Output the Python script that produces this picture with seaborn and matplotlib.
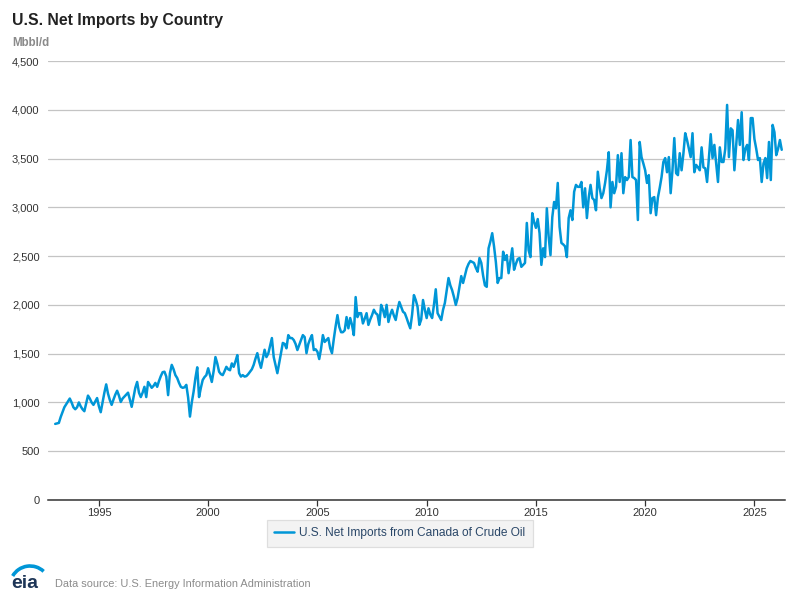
import numpy as np
import pandas as pd
import matplotlib
matplotlib.use("Agg")
import matplotlib.pyplot as plt
from matplotlib.patches import Arc
import seaborn as sns

# ---------------- data (Mbbl/d, monthly, starting Jan 1993) ----------------
start_year = 1993
vals_1990s = [
    780, 785, 790, 850, 900, 950, 980, 1010, 1040, 1000, 950, 930,        # 1993
    950, 1000, 960, 930, 910, 990, 1070, 1040, 1000, 975, 1010, 1045,     # 1994
    960, 900, 1000, 1100, 1185, 1090, 1025, 975, 1030, 1080, 1120, 1070,  # 1995
    1005, 1040, 1060, 1080, 1100, 1030, 955, 1050, 1150, 1210, 1100, 1055,  # 1996
    1100, 1160, 1055, 1210, 1180, 1150, 1170, 1200, 1160, 1220, 1270, 1310,  # 1997
    1315, 1265, 1075, 1300, 1385, 1340, 1280, 1250, 1200, 1160, 1150, 1155,  # 1998
    1180, 1050, 855, 1000, 1110, 1250, 1360, 1055, 1150, 1230, 1260, 1280,   # 1999
]
vals_2000s = [
    1350, 1280, 1210, 1320, 1465, 1400, 1315, 1290, 1280, 1320, 1365, 1340,  # 2000
    1330, 1400, 1365, 1420, 1485, 1300, 1265, 1280, 1265, 1270, 1290, 1315,  # 2001
    1340, 1385, 1450, 1505, 1420, 1355, 1450, 1540, 1465, 1500, 1580, 1660,  # 2002
    1465, 1380, 1300, 1400, 1505, 1610, 1600, 1555, 1690, 1660, 1660, 1640,  # 2003
    1600, 1537, 1590, 1640, 1690, 1670, 1505, 1600, 1650, 1690, 1537, 1545,  # 2004
    1520, 1445, 1550, 1690, 1620, 1640, 1660, 1557, 1505, 1650, 1780, 1895,  # 2005
    1775, 1720, 1720, 1740, 1875, 1760, 1865, 1795, 1690, 2080, 1875, 1915,  # 2006
    1915, 1810, 1860, 1915, 1795, 1850, 1895, 1950, 1915, 1900, 1795, 2000,  # 2007
    1950, 1875, 2000, 1825, 1900, 1950, 1890, 1845, 1950, 2030, 1980, 1930,  # 2008
    1915, 1865, 1810, 1760, 1900, 2100, 2050, 1980, 1795, 1850, 2050, 1950,  # 2009
]
vals_2010s = [
    1865, 1965, 1900, 1865, 2000, 2160, 1915, 1880, 1845, 1950, 2020, 2150,  # 2010
    2275, 2200, 2150, 2080, 2000, 2070, 2180, 2295, 2225, 2300, 2375, 2420,  # 2011
    2450, 2440, 2430, 2380, 2340, 2480, 2430, 2300, 2200, 2185, 2580, 2650,  # 2012
    2735, 2600, 2440, 2225, 2275, 2275, 2545, 2460, 2510, 2325, 2450, 2580,  # 2013
    2360, 2420, 2470, 2480, 2390, 2410, 2430, 2840, 2560, 2490, 2940, 2850,  # 2014
    2790, 2880, 2735, 2410, 2580, 2490, 2990, 2700, 2510, 2900, 3055, 2990,  # 2015
    3250, 2800, 2635, 2620, 2600, 2490, 2890, 2970, 2870, 3160, 3230, 3210,  # 2016
    3210, 3260, 3000, 3195, 2890, 3100, 3230, 3095, 3075, 2970, 3365, 3200,  # 2017
    3095, 3145, 3250, 3380, 3565, 3000, 3260, 3145, 3210, 3535, 3260, 3555,  # 2018
    3145, 3310, 3280, 3310, 3690, 3310, 3300, 3280, 2870, 3670, 3515, 3450,  # 2019
]
vals_2020s = [
    3380, 3250, 3330, 2940, 3095, 3105, 2920, 3100, 3200, 3310, 3465, 3505,  # 2020
    3360, 3515, 3145, 3380, 3710, 3350, 3330, 3555, 3380, 3550, 3760, 3690,  # 2021
    3600, 3515, 3760, 3360, 3435, 3410, 3380, 3615, 3410, 3400, 3260, 3500,  # 2022
    3750, 3505, 3640, 3450, 3260, 3615, 3465, 3465, 3600, 4050, 3515, 3810,  # 2023
    3790, 3380, 3640, 3895, 3640, 3975, 3485, 3600, 3640, 3485, 3915, 3915,  # 2024
    3700, 3600, 3485, 3505, 3260, 3450, 3505, 3300, 3670, 3280, 3845, 3770,  # 2025
    3535, 3600, 3690, 3590,                                                  # 2026
]
series_label = "U.S. Net Imports from Canada of Crude Oil"
y_ticks = [0, 500, 1000, 1500, 2000, 2500, 3000, 3500, 4000, 4500]
x_ticks = [1995, 2000, 2005, 2010, 2015, 2020, 2025]

values = vals_1990s + vals_2000s + vals_2010s + vals_2020s
n = len(values)
t = start_year + np.arange(n) / 12.0
df = pd.DataFrame({"t": t, "value": values})

# ---------------- styling ----------------
sns.set_theme(style="white")
plt.rcParams["font.family"] = ["Liberation Sans", "DejaVu Sans"]

fig = plt.figure(figsize=(8, 6), dpi=100)
ax_left, ax_w = 48 / 800, 737 / 800
ax = fig.add_axes([ax_left, 0.1667, ax_w, 0.7316])

line_color = "#0096d7"
sns.lineplot(data=df, x="t", y="value", ax=ax, color=line_color,
             linewidth=1.8, label=series_label)

ax.set_xlim(1992.67, 2026.40)
ax.set_ylim(0, 4500)
ax.set_yticks(y_ticks)
ax.set_yticklabels([f"{v:,}" for v in y_ticks])
ax.set_xticks(x_ticks)
ax.set_xticklabels([str(x) for x in x_ticks])
ax.set_xlabel("")
ax.set_ylabel("")

ax.grid(axis="y", color="#c4c4c4", linewidth=0.9)
ax.grid(axis="x", visible=False)
ax.set_axisbelow(True)
for s in ["top", "right", "left"]:
    ax.spines[s].set_visible(False)
ax.spines["bottom"].set_color("#333333")
ax.spines["bottom"].set_linewidth(1.1)

ax.tick_params(axis="y", length=0, labelsize=8, labelcolor="#333333", pad=6)
ax.tick_params(axis="x", length=4, width=0.9, color="#333333", labelsize=8,
               labelcolor="#333333", pad=2, direction="out", bottom=True)

# legend, centred on the figure
legend_cx = (400 / 800 - ax_left) / ax_w
leg = ax.legend(loc="upper center", bbox_to_anchor=(legend_cx, -0.046), ncol=1,
                frameon=True, fancybox=False, fontsize=8.6, handlelength=1.6,
                handletextpad=0.5, borderpad=0.6, borderaxespad=0)
leg.get_frame().set_facecolor("#f0f0f0")
leg.get_frame().set_edgecolor("#d8d8d8")
leg.get_frame().set_linewidth(0.9)
for txt in leg.get_texts():
    txt.set_color("#2a4768")

# title and unit
fig.text(12 / 800, 1 - 20 / 600, "U.S. Net Imports by Country", fontsize=11.3,
         fontweight="bold", color="#222222", va="center", ha="left")
fig.text(12 / 800, 1 - 43 / 600, "Mbbl/d", fontsize=8.3, fontweight="bold",
         color="#8a8a8a", va="center", ha="left")

# footer: eia logo and data source
fig.text(11 / 800, 1 - 588.5 / 600, "eia", fontsize=14, fontweight="bold",
         color="#1d3557", va="baseline", ha="left")
logo_ax = fig.add_axes([0, 1 - 590 / 600, 60 / 800, 30 / 600])
logo_ax.set_xlim(0, 60)
logo_ax.set_ylim(0, 30)
logo_ax.axis("off")
logo_ax.add_patch(Arc((30, 4), 40, 40, theta1=47, theta2=150,
                      color=line_color, linewidth=2.6))
fig.text(55 / 800, 1 - 584 / 600,
         "Data source: U.S. Energy Information Administration",
         fontsize=7.9, color="#8c8c8c", va="center", ha="left")

fig.savefig("out.png", dpi=100)
